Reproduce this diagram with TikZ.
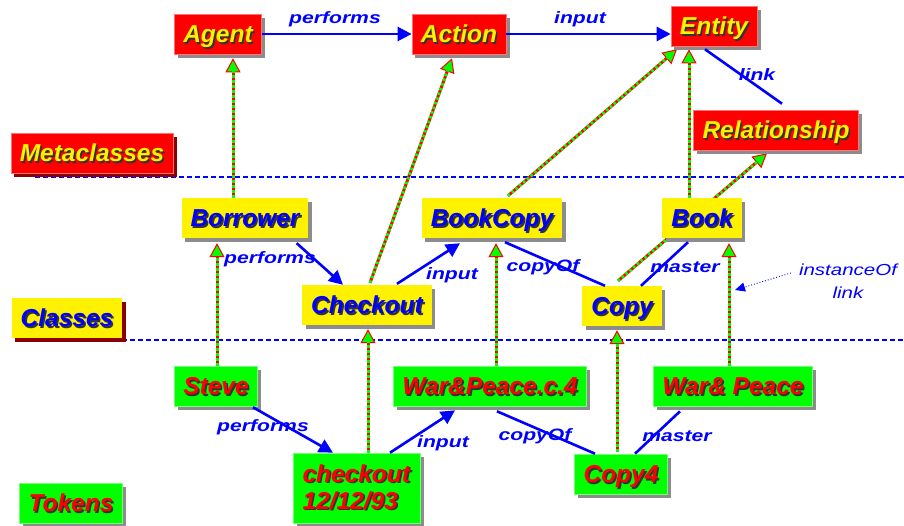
\documentclass[tikz,border=0pt]{standalone}
\usepackage{fontspec}
\setmainfont{Liberation Sans}
\usetikzlibrary{arrows.meta,shadows,calc}
\pgfdeclarelayer{bg}
\pgfsetlayers{bg,main}
\newcommand\tsh[1]{\leavevmode\rlap{\kern1.6pt\raisebox{-1.6pt}{\textcolor{black!80}{#1}}}#1}
\newcommand\lab[1]{\scalebox{1.28}[1]{#1}}
\begin{document}
\begin{tikzpicture}[x=1pt,y=-1pt,
 box/.style={rectangle, inner xsep=9pt, inner ysep=0pt, minimum height=40pt,
   font=\fontsize{24.5}{27}\selectfont\bfseries\itshape,
   drop shadow={shadow xshift=3.5pt, shadow yshift=-3.5pt, fill=black!45, opacity=1}},
 ctr/.style={text height=17.5pt, text depth=0pt},
 meta/.style={box, ctr, fill=red, draw=red!55!white, line width=0.6pt, text=yellow},
 cls/.style={box, ctr, fill=yellow, text=blue},
 tokbase/.style={box, fill=green, draw=green!55!white, line width=0.6pt, text=red},
 tok/.style={tokbase, ctr},
 darkshadow/.style={drop shadow={shadow xshift=3.5pt, shadow yshift=-3.5pt, fill=red!55!black, opacity=1}},
 lbl/.style={font=\fontsize{16.5}{18}\selectfont\bfseries\itshape, text=blue, inner sep=0pt},
 rel/.style={draw=blue, line width=2.6pt},
 relarrow/.style={rel, -{Triangle[length=14pt,width=14pt]}},
 inst/.style={draw=red, line width=3pt, -{Triangle[length=14pt,width=15pt,fill=green,line width=1pt]},
   postaction={draw=green, -, dash pattern=on 2.5pt off 2.5pt, shorten >=13pt}},
 sep/.style={draw=blue, line width=1.5pt, dash pattern=on 5pt off 3pt}
]
\useasboundingbox (0,0) rectangle (904,525);

% Metaclasses level
\node[meta] (agent) at (218,34) {\tsh{Agent}};
\node[meta] (action) at (459,34) {\tsh{Action}};
\node[meta] (entity) at (714,26) {\tsh{Entity}};
\node[meta] (relationship) at (776,130) {\tsh{Relationship}};
\node[meta, darkshadow] (meta) at (92,153) {\tsh{Metaclasses}};

% Classes level
\node[cls] (borrower) at (245,218) {\tsh{Borrower}};
\node[cls] (checkoutC) at (367,305) {\tsh{Checkout}};
\node[cls] (bookcopy) at (492,218) {\tsh{BookCopy}};
\node[cls] (book) at (702,218) {\tsh{Book}};
\node[cls] (copy) at (622,306) {\tsh{Copy}};
\node[cls, darkshadow] (classes) at (67,318) {\tsh{Classes}};

% Tokens level
\node[tok] (steve) at (216,386) {\tsh{Steve}};
\node[tokbase, minimum height=70pt, align=left, text width=109pt] (checkoutT) at (357,488) {\tsh{checkout}\\\tsh{12/12/93}};
\node[tok] (wpc4) at (490,386) {\tsh{War\&Peace.c.4}};
\node[tok] (wp) at (733,386) {\tsh{War\& Peace}};
\node[tok] (copy4) at (621,474) {\tsh{Copy4}};
\node[tok] (tokens) at (71,503) {\tsh{Tokens}};

\begin{pgfonlayer}{bg}
\draw[sep] (35,177) -- (904,177);
\draw[sep] (18,340) -- (904,340);
% instanceOf links
\draw[inst] ([shift={(-12,0)}]borrower.north) -- ([shift={(15,4)}]agent.south);
\draw[inst] ([shift={(3,-2)}]checkoutC.north) -- ([shift={(-7,4)}]action.south);
\draw[inst] ([shift={(16,-2)}]bookcopy.north) -- ([shift={(-37,3)}]entity.south);
\draw[inst] ([shift={(-13,0)}]book.north) -- ([shift={(-25,3)}]entity.south);
\draw[inst] ([shift={(-4,-5)}]copy.north) -- ([shift={(-9,3)}]relationship.south);
\draw[inst] ([shift={(1,0)}]steve.north) -- ([shift={(-28,5)}]borrower.south);
\draw[inst] ([shift={(11,0)}]checkoutT.north) -- ([shift={(1,4)}]checkoutC.south);
\draw[inst] ([shift={(6,0)}]wpc4.north) -- ([shift={(4,5)}]bookcopy.south);
\draw[inst] ([shift={(-4,-2)}]copy4.north) -- ([shift={(-5,4)}]copy.south);
\draw[inst] ([shift={(-4,0)}]wp.north) -- ([shift={(27,5)}]book.south);
\end{pgfonlayer}

% relations, metaclasses
\draw[relarrow] (agent) -- (action);
\draw[relarrow] (action.east |- agent.east) -- (entity.west |- agent.east);
\draw[rel] ([shift={(-9,3)}]entity.south) -- ([shift={(6,-6)}]relationship.north);
\node[lbl] (l1) at (335,19) {\lab{performs}};
\node[lbl] (l2) at (580,19) {\lab{input}};
\node[lbl] (l3) at (757,75) {\lab{link}};

% relations, classes
\draw[relarrow] ([shift={(-12,5)}]borrower.south east) -- ([shift={(-24,0)}]checkoutC.north);
\draw[relarrow] ([shift={(30,-1)}]checkoutC.north) -- ([shift={(-32,5)}]bookcopy.south);
\draw[rel] ([shift={(13,4)}]bookcopy.south) -- ([shift={(-17,0)}]copy.north);
\draw[rel] ([shift={(-14,4)}]book.south) -- ([shift={(19,0)}]copy.north);
\node[lbl] (l4) at (270,259) {\lab{performs}};
\node[lbl] (l5) at (452,275) {\lab{input}};
\node[lbl] (l6) at (543,267) {\lab{copyOf}};
\node[lbl] (l7) at (685,267) {\lab{master}};

% relations, tokens
\draw[relarrow] ([shift={(-5,1)}]steve.south east) -- ([shift={(-24,0)}]checkoutT.north);
\draw[relarrow] ([shift={(33,0)}]checkoutT.north) -- ([shift={(-35,4)}]wpc4.south);
\draw[rel] ([shift={(7,5)}]wpc4.south) -- ([shift={(-26,0)}]copy4.north);
\draw[rel] ([shift={(-53,5)}]wp.south) -- ([shift={(14,0)}]copy4.north);
\node[lbl] (l8) at (263,427) {\lab{performs}};
\node[lbl] (l9) at (443,443) {\lab{input}};
\node[lbl] (l10) at (535,436) {\lab{copyOf}};
\node[lbl] (l11) at (677,436) {\lab{master}};

% legend for instanceOf
\node[font=\fontsize{16}{23}\selectfont\itshape, text=blue, align=center, inner sep=0pt] (iolabel) at (848,281) {\lab{instanceOf}\\\lab{link}};
\coordinate (iotarget) at (735,290);
\draw[blue, line width=0.9pt, dotted, -{Triangle[length=10pt,width=9pt]}] ([shift={(-8,-8)}]iolabel.west) -- (iotarget);
\end{tikzpicture}
\end{document}
